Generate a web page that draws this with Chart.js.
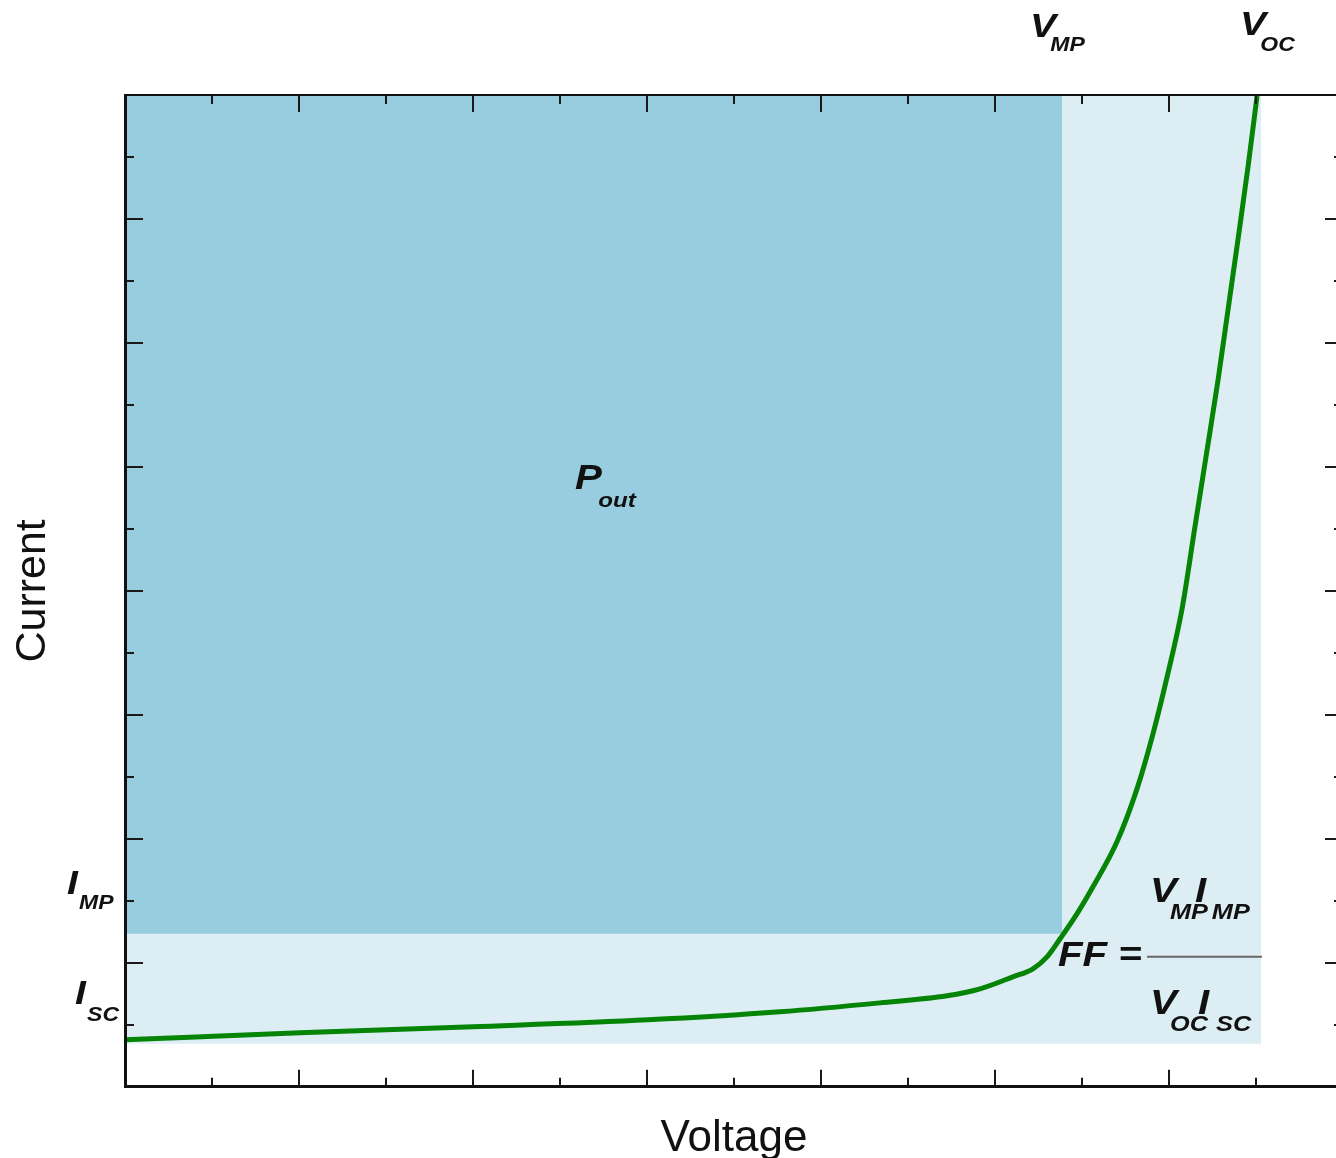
<!DOCTYPE html>
<html lang="en">
<head>
  <meta charset="UTF-8">
  <title>Solar cell I-V curve</title>
  <script src="https://cdn.jsdelivr.net/npm/chart.js"></script>
  <style>
    html, body { margin: 0; padding: 0; overflow: hidden; background: #fff; }
    canvas { display: block; }
  </style>
</head>
<body>
  <canvas id="ivChart" width="1360" height="1200"></canvas>

  <script>
    // I-V curve (arbitrary units, one unit per major tick)
    const voltage = [0, 1.006, 2.0, 3.006, 3.764, 4.339, 4.724, 4.914, 5.103, 5.218, 5.299, 5.374, 5.471, 5.563, 5.701, 5.816, 5.908, 5.989, 6.075, 6.149, 6.218, 6.282, 6.339, 6.397, 6.454, 6.506];
    const current = [0.379, 0.435, 0.484, 0.540, 0.605, 0.677, 0.734, 0.790, 0.887, 0.952, 1.048, 1.194, 1.395, 1.613, 1.976, 2.403, 2.847, 3.306, 3.855, 4.516, 5.129, 5.702, 6.266, 6.839, 7.419, 7.992];

    // shaded boxes: [from, to]
    const powerBoxV = [0, 5.385];
    const powerBoxI = [1.234, 8];
    const limitBoxV = [0, 6.53];
    const limitBoxI = [0.347, 8];

    const xRange = [0, 7];
    const yRange = [0, 8];

    const FONT = '"Liberation Sans", Arial, sans-serif';
    const STRETCH = 1.15;

    // main letter with a subscript, slightly widened like the original lettering
    function subText(ctx, x0, y0, main, low, big, small, dx, dy) {
      ctx.save();
      ctx.translate(x0, y0);
      ctx.scale(STRETCH, 1);
      ctx.font = `italic bold ${big}px ${FONT}`;
      ctx.fillText(main, 0, 0);
      const w = ctx.measureText(main).width;
      ctx.font = `italic bold ${small}px ${FONT}`;
      ctx.fillText(low, w + dx, dy);
      const end = w + dx + ctx.measureText(low).width;
      ctx.restore();
      return x0 + end * STRETCH;
    }

    // inward ticks on all four sides
    const tickPlugin = {
      id: 'inwardTicks',
      afterDatasetsDraw(chart) {
        const { ctx, chartArea: a, scales: { x, y } } = chart;
        ctx.save();
        ctx.strokeStyle = '#1a1a1a';
        ctx.lineWidth = 2;
        ctx.beginPath();
        x.ticks.forEach(t => {
          if (t.value <= xRange[0] || t.value >= xRange[1]) return;
          const px = Math.round(x.getPixelForValue(t.value));
          const len = Number.isInteger(t.value) ? 17 : 9;
          ctx.moveTo(px, a.bottom); ctx.lineTo(px, a.bottom - len);
          ctx.moveTo(px, a.top); ctx.lineTo(px, a.top + len);
        });
        y.ticks.forEach(t => {
          if (t.value <= yRange[0] || t.value >= yRange[1]) return;
          const py = Math.round(y.getPixelForValue(t.value));
          const len = Number.isInteger(t.value) ? 18 : 9;
          ctx.moveTo(a.left, py); ctx.lineTo(a.left + len, py);
          ctx.moveTo(a.right, py); ctx.lineTo(a.right - len, py);
        });
        ctx.stroke();
        ctx.restore();
      }
    };

    const labelPlugin = {
      id: 'ivLabels',
      afterDraw(chart) {
        const { ctx, scales: { x, y } } = chart;
        const px = v => x.getPixelForValue(v);
        const py = v => y.getPixelForValue(v);
        ctx.save();
        ctx.fillStyle = '#111';
        ctx.textBaseline = 'alphabetic';
        ctx.textAlign = 'left';

        subText(ctx, px(2.586), py(4.823), 'P', 'out', 35, 21, -3, 18);
        subText(ctx, px(5.201), py(8.468), 'V', 'MP', 34, 20, -5, 14);
        subText(ctx, px(6.408), py(8.484), 'V', 'OC', 34, 20, -5, 16);
        subText(ctx, px(-0.333), py(1.556), 'I', 'MP', 34, 20, 1, 15);
        subText(ctx, px(-0.287), py(0.669), 'I', 'SC', 34, 20, 1, 17);

        ctx.save();
        ctx.translate(px(5.362), py(0.976));
        ctx.scale(STRETCH, 1);
        ctx.font = `italic bold 35px ${FONT}`;
        ctx.fillText('FF =', 0, 0);
        ctx.restore();

        let end = subText(ctx, px(5.891), py(1.492), 'V', 'MP', 35, 22, -6, 17);
        subText(ctx, end - 13, py(1.492), 'I', 'MP', 35, 22, 5, 17);
        end = subText(ctx, px(5.891), py(0.589), 'V', 'OC', 35, 22, -6, 17);
        subText(ctx, end - 10, py(0.589), 'I', 'SC', 35, 22, 6, 17);

        ctx.strokeStyle = '#666';
        ctx.lineWidth = 2;
        ctx.beginPath();
        ctx.moveTo(px(5.874), py(1.048));
        ctx.lineTo(px(6.534), py(1.048));
        ctx.stroke();
        ctx.restore();
      }
    };

    const boxData = (vs, is) => vs.map(v => ({ x: v, y: is[1] }));

    // z: 1 so the frame is drawn over the shaded boxes
    const thick = { display: true, color: '#111', width: 3, z: 1 };
    const thin = { display: true, color: '#111', width: 2, z: 1 };

    new Chart(document.getElementById('ivChart'), {
      type: 'line',
      data: {
        datasets: [{
          label: 'I-V curve',
          data: voltage.map((v, i) => ({ x: v, y: current[i] })),
          borderColor: '#058405',
          borderWidth: 5,
          pointRadius: 0,
          cubicInterpolationMode: 'monotone',
          fill: false,
          order: 0
        }, {
          label: 'Pout',
          data: boxData(powerBoxV, powerBoxI),
          borderColor: 'rgba(0,0,0,0)',
          borderWidth: 0,
          pointRadius: 0,
          backgroundColor: '#97cddf',
          fill: { value: powerBoxI[0] },
          order: 1
        }, {
          label: 'Voc Isc',
          data: boxData(limitBoxV, limitBoxI),
          borderColor: 'rgba(0,0,0,0)',
          borderWidth: 0,
          pointRadius: 0,
          backgroundColor: '#dcedf4',
          fill: { value: limitBoxI[0] },
          order: 2
        }]
      },
      options: {
        responsive: false,
        devicePixelRatio: 1,
        animation: false,
        layout: { padding: { left: 0, top: 95, right: 17, bottom: 30.6 } },
        plugins: { legend: { display: false }, tooltip: { enabled: false } },
        scales: {
          x: {
            type: 'linear', position: 'bottom',
            min: xRange[0], max: xRange[1],
            ticks: { display: false, stepSize: 0.5 },
            grid: { display: false, drawTicks: false },
            border: thick,
            title: {
              display: true, text: 'Voltage', color: '#111',
              font: { family: FONT, size: 44 },
              padding: { top: 25.8, bottom: 4 }
            }
          },
          y: {
            type: 'linear', position: 'left',
            min: yRange[0], max: yRange[1],
            ticks: { display: false, stepSize: 0.5 },
            grid: { display: false, drawTicks: false },
            border: thick,
            title: {
              display: true, text: 'Current', color: '#111',
              font: { family: FONT, size: 43 },
              padding: { top: 7.5, bottom: 65.9 }
            }
          },
          x2: {
            type: 'linear', position: 'top',
            ticks: { display: false },
            grid: { display: false, drawTicks: false },
            border: thin
          },
          y2: {
            type: 'linear', position: 'right',
            ticks: { display: false },
            grid: { display: false, drawTicks: false },
            border: thin
          }
        }
      },
      plugins: [tickPlugin, labelPlugin]
    });
  </script>
</body>
</html>
